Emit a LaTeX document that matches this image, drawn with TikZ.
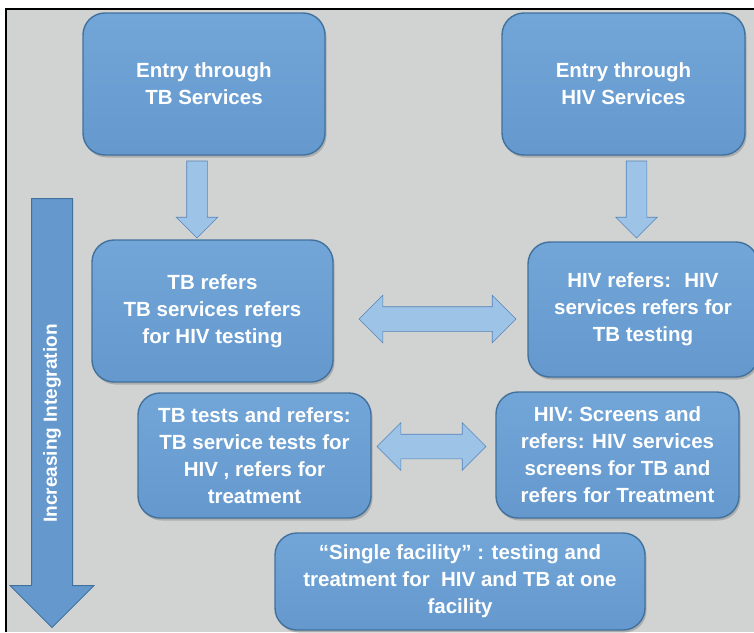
\documentclass[tikz,border=0pt]{standalone}
\usepackage{fontspec}
\setmainfont{Liberation Sans}
\usepackage{tikz}
\usetikzlibrary{shapes.arrows,shadows,positioning}
\definecolor{panelgray}{HTML}{D1D3D2}
\definecolor{boxblue}{HTML}{6599CE}
\definecolor{boxtop}{HTML}{72A6D8}
\definecolor{boxedge}{HTML}{41719C}
\definecolor{arrowblue}{HTML}{9DC3E6}
\definecolor{arrowedge}{HTML}{5683B8}

\begin{document}
\begin{tikzpicture}[x=1pt,y=-1pt,
  stagebox/.style={rounded corners=22,draw=boxedge,line width=1.4pt,top color=boxtop,bottom color=boxblue,
    drop shadow={opacity=0.45,shadow xshift=1.5pt,shadow yshift=-2.5pt},
    text=white,align=center,inner sep=0,font=\fontsize{20.5}{27}\selectfont\bfseries},
  downarrow/.style={single arrow,draw=arrowedge,fill=arrowblue,line width=0.6pt,shape border rotate=270,
    minimum height=77,minimum width=41,single arrow head extend=10.5,inner sep=10,anchor=tail},
  botharrow/.style={double arrow,draw=arrowedge,fill=arrowblue,line width=0.6pt,
    minimum width=47,double arrow head extend=11.5,inner sep=12}]
  \useasboundingbox (0,0) rectangle (754,632);
  \fill[white] (0,0) rectangle (754,632);
  \fill[panelgray] (6,9) rectangle (754,632);
  \draw[line width=2pt] (6,632) -- (6,9) -- (754,9);
  % entry points
  \node[stagebox,minimum width=242,minimum height=142] (tbentry) at (204,84) {Entry through\\TB Services};
  \node[stagebox,minimum width=243,minimum height=142] (hiventry) at (623.5,84) {Entry through\\HIV Services};
  % referral level
  \node[stagebox,minimum width=241,minimum height=142] (tbrefer) at (212.5,311) {TB refers\\TB services refers\\for HIV testing};
  \node[stagebox,minimum width=230,minimum height=135] (hivrefer) at (643,309.5) {HIV refers:~ HIV\\services refers for\\TB testing};
  % testing level
  \node[stagebox,minimum width=233,minimum height=125] (tbtest) at (254.5,455.5) {TB tests and refers:\\TB service tests for\\HIV , refers for\\treatment};
  \node[stagebox,minimum width=243,minimum height=126] (hivscreen) at (617.5,455) {HIV: Screens and\\refers: HIV services\\screens for TB and\\refers for Treatment};
  \node[stagebox,minimum width=370,minimum height=97] (onesite) at (460,581.5) {“Single facility” : testing and\\treatment for~ HIV and TB at one\\facility};
  % block arrows
  \node[downarrow] (tbdown) at ([shift={(-7,5)}]tbentry.south) {};
  \node[downarrow] (hivdown) at ([shift={(13,5)}]hiventry.south) {};
  \node[botharrow,minimum height=157] (referlink) at (437.5,319) {};
  \node[botharrow,minimum height=109] (testlink) at (431.5,446.5) {};
  % integration axis
  \node[single arrow,fill=boxblue,draw=boxedge,line width=1pt,shape border rotate=270,minimum height=429,
    minimum width=83,single arrow head extend=21.5,inner sep=20,anchor=tail] (integarrow) at (52,198) {};
  \node[rotate=90,text=white,font=\fontsize{19}{19}\selectfont\bfseries] (integlabel) at (52,423.5) {Increasing Integration};
\end{tikzpicture}
\end{document}
